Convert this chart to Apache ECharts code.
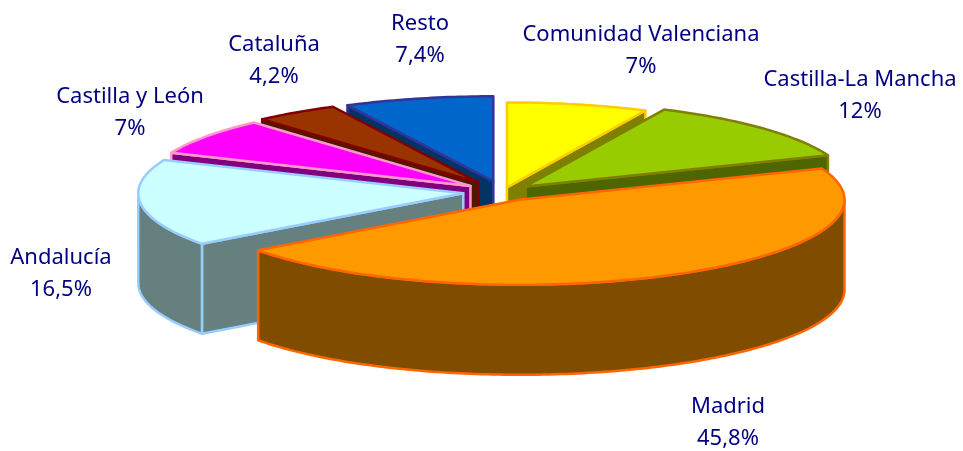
<!DOCTYPE html>
<html>
<head>
<meta charset="utf-8">
<style>
html, body { margin: 0; background: #fff; }
#chart { width: 963px; height: 451px; }
</style>
<script src="https://cdn.jsdelivr.net/npm/echarts@6/dist/echarts.min.js"></script>
</head>
<body>
<div id="chart"></div>
<script>
const regions = ['Comunidad Valenciana', 'Castilla-La Mancha', 'Madrid', 'Andalucía', 'Castilla y León', 'Cataluña', 'Resto'];
const shares = [7, 12, 45.8, 16.5, 7, 4.2, 7.4];

const topColors = ['#ffff00', '#99cc00', '#ff9900', '#ccffff', '#ff00ff', '#993300', '#0066cc'];
const wallColors = ['#808000', '#4d6600', '#804d00', '#668080', '#800080', '#4d1a00', '#003366'];
const edgeColors = ['#ffcc00', '#808000', '#ff6600', '#99ccff', '#ff99cc', '#800000', '#333399'];

// pull-out of each slice and where its label sits
const explode = [18, 31, 34, 40, 40, 43, 42];
const labelAt = [[641, 51], [860, 96], [728, 423], [61, 274], [130, 113], [274, 61], [420, 40]];

const CX = 503, CY = 192, RX = 325, RY = 85, DEPTH = 90;
const total = shares.reduce((a, b) => a + b, 0);
const rad = (d) => (d * Math.PI) / 180;

const renderSlice = (params, api) => {
    const i = params.dataIndex;
    const before = shares.slice(0, i).reduce((a, b) => a + b, 0);
    const a1 = (before / total) * 360;
    const a2 = ((before + api.value(0)) / total) * 360;
    const mid = (a1 + a2) / 2;
    const tx = CX + explode[i] * Math.sin(rad(mid));
    const ty = CY - (explode[i] * RY * Math.cos(rad(mid))) / RX;
    const at = (a, drop) => [tx + RX * Math.sin(rad(a)), ty - RY * Math.cos(rad(a)) + drop];
    const arc = (from, to, drop) => {
        const pts = [];
        const n = Math.max(2, Math.ceil(to - from));
        for (let k = 0; k <= n; k++) {
            pts.push(at(from + ((to - from) * k) / n, drop));
        }
        return pts;
    };
    const base = Math.round(-Math.cos(rad(mid)) * 100);
    const face = (points, fill, z) => ({
        type: 'polygon',
        shape: { points },
        z2: base * 10 + z,
        silent: true,
        style: { fill, stroke: edgeColors[i], lineWidth: 2.5, lineJoin: 'round' },
    });
    const children = [];
    const wall = (a) => [[tx, ty], at(a, 0), at(a, DEPTH), [tx, ty + DEPTH]];
    if (Math.sin(rad(a1)) < 0) {
        children.push(face(wall(a1), wallColors[i], 0));
    }
    if (Math.sin(rad(a2)) > 0) {
        children.push(face(wall(a2), wallColors[i], 0));
    }
    const from = Math.max(a1, 90), to = Math.min(a2, 270);
    if (from < to) {
        const outer = arc(from, to, 0).concat(arc(from, to, DEPTH).reverse());
        children.push(face(outer, wallColors[i], 1));
    }
    children.push(face([[tx, ty]].concat(arc(a1, a2, 0)), topColors[i], 2));
    const pct = String(api.value(0)).replace('.', ',') + '%';
    children.push({
        type: 'text',
        x: labelAt[i][0],
        y: labelAt[i][1],
        z2: 5000,
        silent: true,
        style: {
            text: regions[i] + '\n' + pct,
            fill: '#000080',
            font: '22px "Noto Sans"',
            lineHeight: 32,
            align: 'center',
            verticalAlign: 'middle',
        },
    });
    return { type: 'group', children };
};

const chart = echarts.init(document.getElementById('chart'));
chart.setOption({
    backgroundColor: '#fff',
    animation: false,
    series: [{
        type: 'custom',
        coordinateSystem: 'none',
        renderItem: renderSlice,
        data: shares.map((v) => [v]),
    }],
});
</script>
</body>
</html>
